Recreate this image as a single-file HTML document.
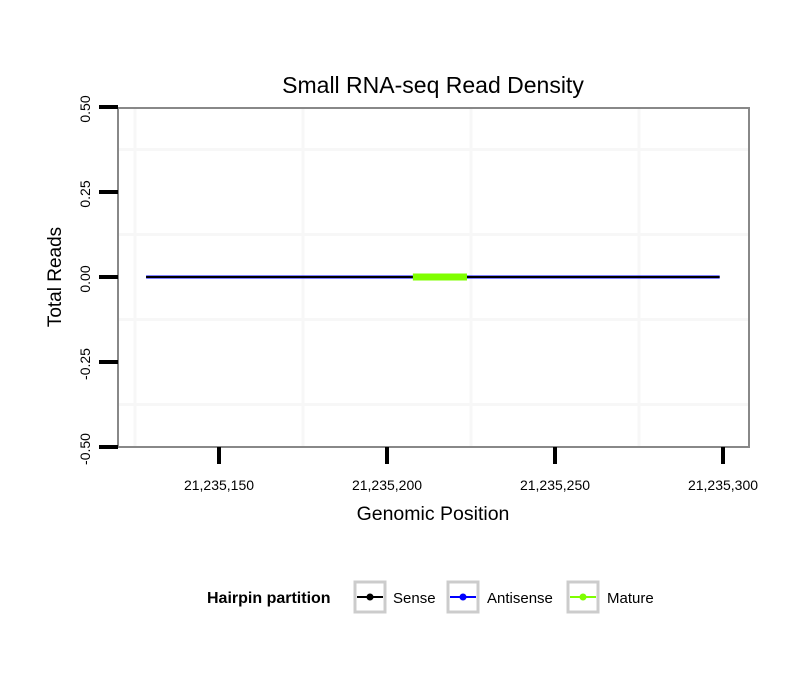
<!DOCTYPE html>
<html><head><meta charset="utf-8"><style>
body{margin:0;background:#fff;width:810px;height:690px;overflow:hidden}
svg{font-family:"Liberation Sans",sans-serif}
</style></head><body>
<svg id="chart" width="810" height="690" xmlns="http://www.w3.org/2000/svg">
<text x="433" y="93" font-size="23" text-anchor="middle">Small RNA-seq Read Density</text>
<g id="grid"></g>
<g id="marks"></g>
<rect x="118" y="108" width="631" height="339" fill="none" stroke="#888" stroke-width="2"/>
<g id="axes"></g>
<text x="433" y="520" font-size="19.5" text-anchor="middle">Genomic Position</text>
<text transform="translate(61,277) rotate(-90)" font-size="19" text-anchor="middle">Total Reads</text>
<g font-size="15">
<text x="207" y="603" font-weight="bold" font-size="16">Hairpin partition</text>
<g>
<rect x="355" y="582" width="30" height="30" fill="#fff" stroke="#ccc" stroke-width="3"/>
<line x1="357" y1="597" x2="383" y2="597" stroke="#000" stroke-width="2"/><circle cx="370" cy="597" r="3.5" fill="#000"/>
<text x="393" y="603">Sense</text></g>
<g>
<rect x="448" y="582" width="30" height="30" fill="#fff" stroke="#ccc" stroke-width="3"/>
<line x1="450" y1="597" x2="476" y2="597" stroke="#0000ff" stroke-width="2"/><circle cx="463" cy="597" r="3.5" fill="#0000ff"/>
<text x="487" y="603">Antisense</text></g>
<g>
<rect x="568" y="582" width="30" height="30" fill="#fff" stroke="#ccc" stroke-width="3"/>
<line x1="570" y1="597" x2="596" y2="597" stroke="#7fff00" stroke-width="2"/><circle cx="583" cy="597" r="3.5" fill="#7fff00"/>
<text x="607" y="603">Mature</text></g>
</g>
</svg>
<script>
const xTicks=[21235150,21235200,21235250,21235300];
const xTickLabels=["21,235,150","21,235,200","21,235,250","21,235,300"];
const yTicks=[0.5,0.25,0,-0.25,-0.5];
const yTickLabels=["0.50","0.25","0.00","-0.25","-0.50"];
const xMinorGrid=[21235125,21235175,21235225,21235275];
const yMinorGrid=[0.375,0.125,-0.125,-0.375];
const senseStart=21235128.3, senseEnd=21235299;
const senseValue=0;
const antisenseValue=0;
const matureStart=21235207.7, matureEnd=21235223.8;
const matureValue=0;

const X=v=>219+(v-21235150)*3.36;
const Y=v=>277-v*340;
const NS="http://www.w3.org/2000/svg";
function mk(parent,tag,attrs){const e=document.createElementNS(NS,tag);for(const k in attrs)e.setAttribute(k,attrs[k]);parent.appendChild(e);return e;}
const grid=document.getElementById('grid'),marks=document.getElementById('marks'),axes=document.getElementById('axes');
xMinorGrid.forEach(v=>{const l=mk(grid,'line',{x1:X(v),x2:X(v),y1:109,y2:446,stroke:'#f7f7f7','stroke-width':3});

});
yMinorGrid.forEach(v=>{const l=mk(grid,'line',{x1:119,x2:748,y1:Y(v),y2:Y(v),stroke:'#f7f7f7','stroke-width':3});

});
const a=mk(marks,'line',{x1:X(senseStart),x2:X(senseEnd),y1:Y(antisenseValue),y2:Y(antisenseValue),stroke:'#0000ff','stroke-width':3});


const s=mk(marks,'line',{x1:X(senseStart),x2:X(senseEnd),y1:Y(senseValue),y2:Y(senseValue),stroke:'#000','stroke-width':2});


const m=mk(marks,'line',{x1:X(matureStart),x2:X(matureEnd),y1:Y(matureValue),y2:Y(matureValue),stroke:'#7fff00','stroke-width':7});


xTicks.forEach((v,i)=>{const t=mk(axes,'line',{x1:X(v),x2:X(v),y1:447,y2:464,stroke:'#000','stroke-width':4});


const tx=mk(axes,'text',{x:X(v),y:490,'font-size':14,'text-anchor':'middle'});tx.textContent=xTickLabels[i];

});
yTicks.forEach((v,i)=>{const t=mk(axes,'line',{x1:99,x2:118,y1:Y(v),y2:Y(v),stroke:'#000','stroke-width':4});


const tx=mk(axes,'text',{transform:`translate(90,${Y(v)+2}) rotate(-90)`,'font-size':14,'text-anchor':'middle'});tx.textContent=yTickLabels[i];

});
</script>
</body></html>
